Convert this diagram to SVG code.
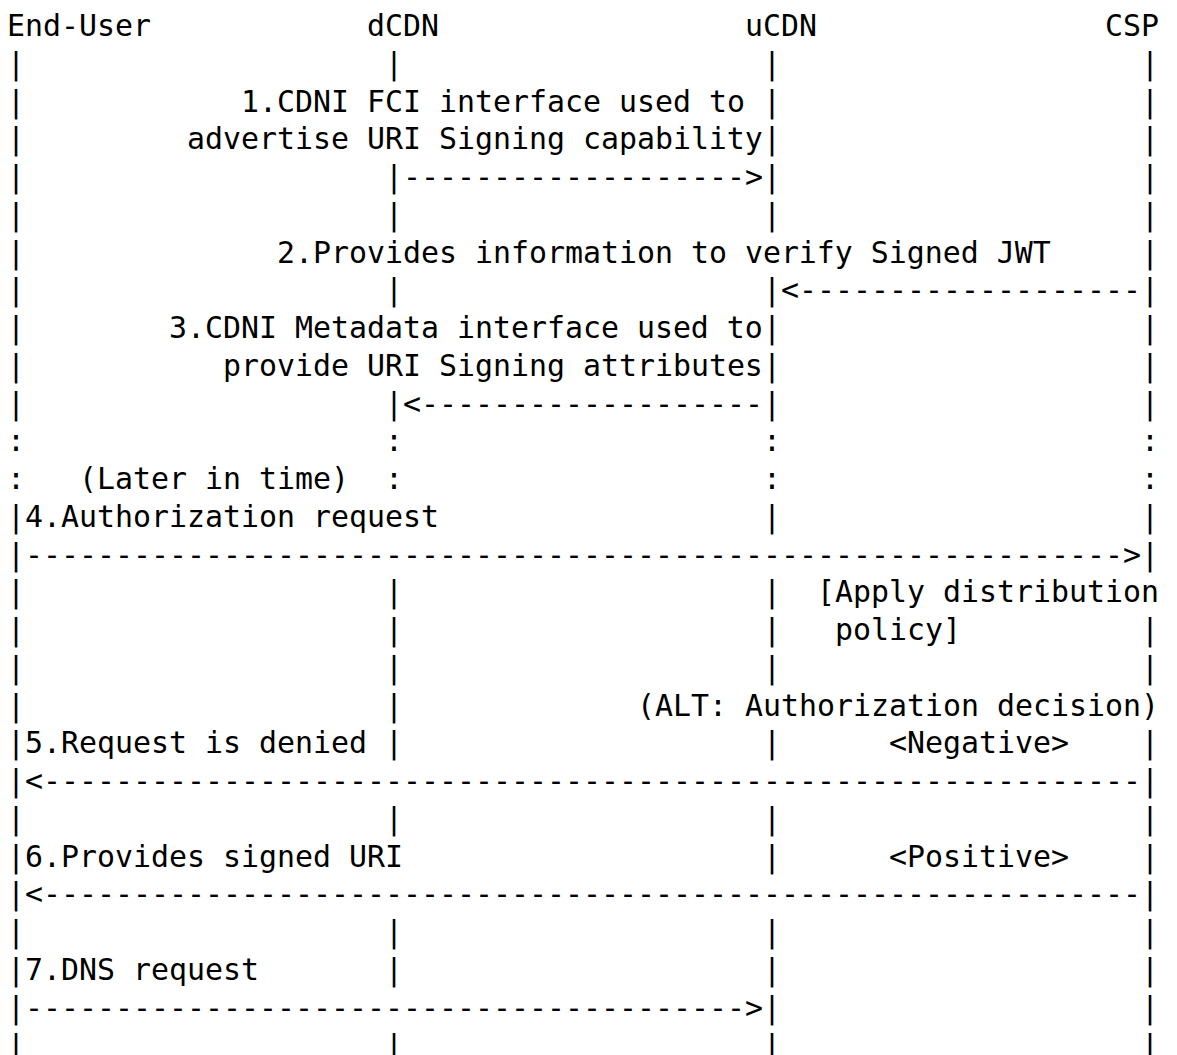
<svg xmlns="http://www.w3.org/2000/svg" width="1177" height="1055" viewBox="0 0 1177 1055">
<style>
text{font-family:"DejaVu Sans Mono","Liberation Mono",monospace;font-size:29.9px;fill:#000;white-space:pre}
</style>
<rect width="1177" height="1055" fill="#fff"/>
<g id="end-user">
<text x="7" y="36">End-User</text>
<text><tspan x="7" y="73.76">|</tspan><tspan x="7" y="111.52">|</tspan><tspan x="7" y="149.28">|</tspan><tspan x="7" y="187.04">|</tspan><tspan x="7" y="224.8">|</tspan><tspan x="7" y="262.56">|</tspan><tspan x="7" y="300.32">|</tspan><tspan x="7" y="338.08">|</tspan><tspan x="7" y="375.84">|</tspan><tspan x="7" y="413.6">|</tspan><tspan x="7" y="451.36">:</tspan><tspan x="7" y="489.12">:</tspan><tspan x="7" y="526.88">|</tspan><tspan x="7" y="564.64">|</tspan><tspan x="7" y="602.4">|</tspan><tspan x="7" y="640.16">|</tspan><tspan x="7" y="677.92">|</tspan><tspan x="7" y="715.68">|</tspan><tspan x="7" y="753.44">|</tspan><tspan x="7" y="791.2">|</tspan><tspan x="7" y="828.96">|</tspan><tspan x="7" y="866.72">|</tspan><tspan x="7" y="904.48">|</tspan><tspan x="7" y="942.24">|</tspan><tspan x="7" y="980">|</tspan><tspan x="7" y="1017.76">|</tspan><tspan x="7" y="1055.52">|</tspan></text>
</g>
<g id="dcdn">
<text x="367" y="36">dCDN</text>
<text><tspan x="385" y="73.76">|</tspan><tspan x="385" y="187.04">|</tspan><tspan x="385" y="224.8">|</tspan><tspan x="385" y="300.32">|</tspan><tspan x="385" y="413.6">|</tspan><tspan x="385" y="451.36">:</tspan><tspan x="385" y="489.12">:</tspan><tspan x="385" y="602.4">|</tspan><tspan x="385" y="640.16">|</tspan><tspan x="385" y="677.92">|</tspan><tspan x="385" y="715.68">|</tspan><tspan x="385" y="753.44">|</tspan><tspan x="385" y="828.96">|</tspan><tspan x="385" y="942.24">|</tspan><tspan x="385" y="980">|</tspan><tspan x="385" y="1055.52">|</tspan></text>
</g>
<g id="ucdn">
<text x="745" y="36">uCDN</text>
<text><tspan x="763" y="73.76">|</tspan><tspan x="763" y="111.52">|</tspan><tspan x="763" y="149.28">|</tspan><tspan x="763" y="187.04">|</tspan><tspan x="763" y="224.8">|</tspan><tspan x="763" y="300.32">|</tspan><tspan x="763" y="338.08">|</tspan><tspan x="763" y="375.84">|</tspan><tspan x="763" y="413.6">|</tspan><tspan x="763" y="451.36">:</tspan><tspan x="763" y="489.12">:</tspan><tspan x="763" y="526.88">|</tspan><tspan x="763" y="602.4">|</tspan><tspan x="763" y="640.16">|</tspan><tspan x="763" y="677.92">|</tspan><tspan x="763" y="753.44">|</tspan><tspan x="763" y="828.96">|</tspan><tspan x="763" y="866.72">|</tspan><tspan x="763" y="942.24">|</tspan><tspan x="763" y="980">|</tspan><tspan x="763" y="1017.76">|</tspan><tspan x="763" y="1055.52">|</tspan></text>
</g>
<g id="csp">
<text x="1105" y="36">CSP</text>
<text><tspan x="1141" y="73.76">|</tspan><tspan x="1141" y="111.52">|</tspan><tspan x="1141" y="149.28">|</tspan><tspan x="1141" y="187.04">|</tspan><tspan x="1141" y="224.8">|</tspan><tspan x="1141" y="262.56">|</tspan><tspan x="1141" y="300.32">|</tspan><tspan x="1141" y="338.08">|</tspan><tspan x="1141" y="375.84">|</tspan><tspan x="1141" y="413.6">|</tspan><tspan x="1141" y="451.36">:</tspan><tspan x="1141" y="489.12">:</tspan><tspan x="1141" y="526.88">|</tspan><tspan x="1141" y="564.64">|</tspan><tspan x="1141" y="640.16">|</tspan><tspan x="1141" y="677.92">|</tspan><tspan x="1141" y="753.44">|</tspan><tspan x="1141" y="791.2">|</tspan><tspan x="1141" y="828.96">|</tspan><tspan x="1141" y="866.72">|</tspan><tspan x="1141" y="904.48">|</tspan><tspan x="1141" y="942.24">|</tspan><tspan x="1141" y="980">|</tspan><tspan x="1141" y="1017.76">|</tspan><tspan x="1141" y="1055.52">|</tspan></text>
</g>
<g id="connectors">
<text x="403" y="187.04" textLength="360" lengthAdjust="spacing">-------------------&gt;</text>
<text x="781" y="300.32" textLength="360" lengthAdjust="spacing">&lt;-------------------</text>
<text x="403" y="413.6" textLength="360" lengthAdjust="spacing">&lt;-------------------</text>
<text x="25" y="564.64" textLength="1116" lengthAdjust="spacing">-------------------------------------------------------------&gt;</text>
<text x="25" y="791.2" textLength="1116" lengthAdjust="spacing">&lt;-------------------------------------------------------------</text>
<text x="25" y="904.48" textLength="1116" lengthAdjust="spacing">&lt;-------------------------------------------------------------</text>
<text x="25" y="1017.76" textLength="738" lengthAdjust="spacing">----------------------------------------&gt;</text>
</g>
<g id="labels">
<text x="241" y="111.52">1.CDNI FCI interface used to</text>
<text x="187" y="149.28">advertise URI Signing capability</text>
<text x="277" y="262.56">2.Provides information to verify Signed JWT</text>
<text x="169" y="338.08">3.CDNI Metadata interface used to</text>
<text x="223" y="375.84">provide URI Signing attributes</text>
<text x="79" y="489.12">(Later in time)</text>
<text x="25" y="526.88">4.Authorization request</text>
<text x="817" y="602.4">[Apply distribution</text>
<text x="835" y="640.16">policy]</text>
<text x="637" y="715.68">(ALT: Authorization decision)</text>
<text x="25" y="753.44">5.Request is denied</text>
<text x="889" y="753.44">&lt;Negative&gt;</text>
<text x="25" y="866.72">6.Provides signed URI</text>
<text x="889" y="866.72">&lt;Positive&gt;</text>
<text x="25" y="980">7.DNS request</text>
</g>
</svg>
